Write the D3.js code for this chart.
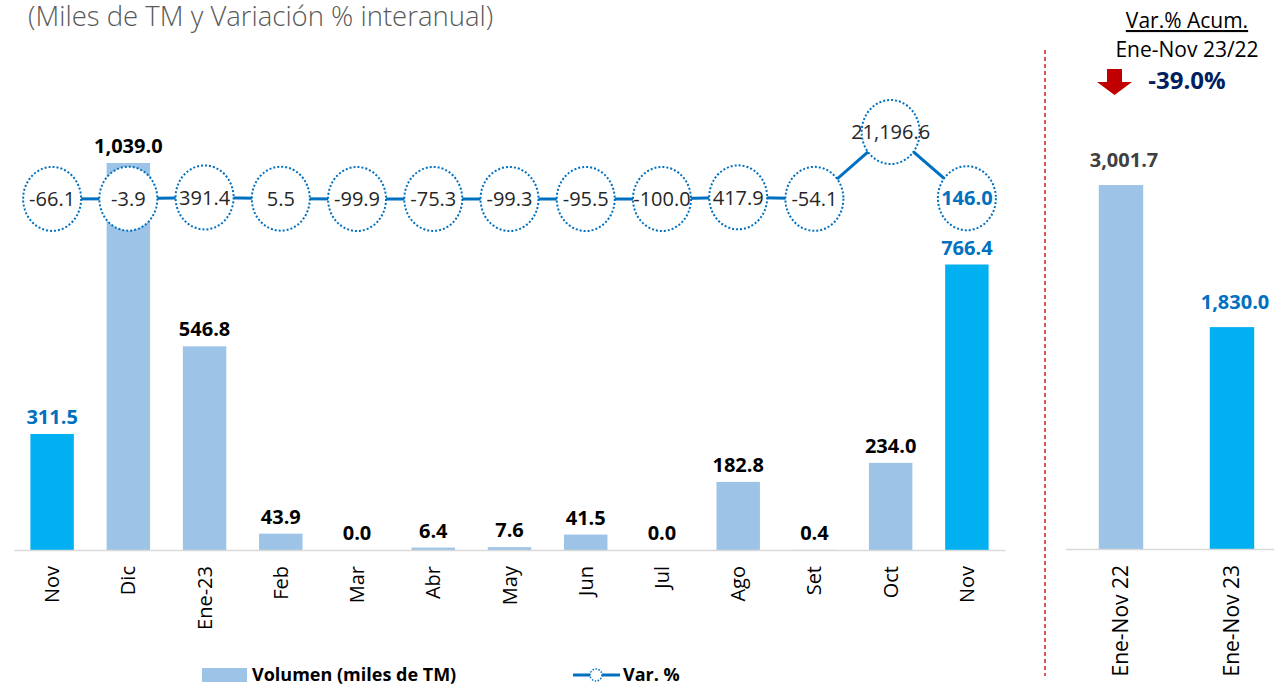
<!DOCTYPE html>
<html>
<head>
<meta charset="utf-8">
<script src="https://cdn.jsdelivr.net/npm/d3@7"></script>
<style>
  body { margin: 0; background: #fff; }
  svg { display: block; font-family: "Open Sans", sans-serif; }
</style>
</head>
<body>
<div id="chart"></div>
<script>
// ----------------------------
// Data
// ----------------------------
var months = ["Nov", "Dic", "Ene-23", "Feb", "Mar", "Abr", "May", "Jun", "Jul", "Ago", "Set", "Oct", "Nov"];
var volumen = [311.5, 1039.0, 546.8, 43.9, 0.0, 6.4, 7.6, 41.5, 0.0, 182.8, 0.4, 234.0, 766.4];
var variacion = [-66.1, -3.9, 391.4, 5.5, -99.9, -75.3, -99.3, -95.5, -100.0, 417.9, -54.1, 21196.6, 146.0];

var acumCats = ["Ene-Nov 22", "Ene-Nov 23"];
var acumVals = [3001.7, 1830.0];
var acumVar = "-39.0%";

// ----------------------------
// Config
// ----------------------------
var Vis = {};
Vis.width = 1274;
Vis.height = 686;
Vis.light = "#9DC3E6";
Vis.bright = "#00B0F0";
Vis.blue = "#0070C0";
// plain hyphen for negatives, like the original
Vis.fmt = d3.formatLocale({decimal: ".", thousands: ",", grouping: [3], currency: ["", ""], minus: "-"}).format(",.1f");

Vis.svg = d3.select("#chart").append("svg")
  .attr("width", Vis.width)
  .attr("height", Vis.height);

// title
Vis.svg.append("text")
  .attr("x", 28).attr("y", 26)
  .attr("font-size", 27.5)
  .attr("font-weight", 300)
  .attr("fill", "#595959")
  .text("(Miles de TM y Variación % interanual)");

// ----------------------------
// Scales - monthly chart
// ----------------------------
Vis.x = d3.scaleBand()
  .domain(d3.range(months.length))
  .range([14, 1005])
  .paddingInner(0.43)
  .paddingOuter(0.215);

Vis.y = d3.scaleLinear().domain([0, 1200]).range([550, 103]);
Vis.y2 = d3.scaleLinear().domain([-100, 21196.6]).range([199, 132]);

// bars
Vis.svg.append("g").selectAll("rect")
  .data(volumen)
  .enter().append("rect")
  .attr("x", (d, i) => Vis.x(i))
  .attr("y", d => Vis.y(d))
  .attr("width", Vis.x.bandwidth())
  .attr("height", d => Vis.y(0) - Vis.y(d))
  .attr("fill", (d, i) => months[i] == "Nov" ? Vis.bright : Vis.light);

// x axis
Vis.xAxis = Vis.svg.append("g")
  .attr("transform", `translate(0,${Vis.y(0)})`)
  .call(d3.axisBottom(Vis.x).tickSize(0).tickFormat(i => months[i]));
Vis.xAxis.select(".domain").attr("stroke", "#D9D9D9").attr("stroke-width", 1.5);
Vis.xAxis.selectAll("text")
  .attr("transform", "rotate(-90)")
  .attr("x", -16).attr("y", 0).attr("dy", "0.35em")
  .attr("text-anchor", "end")
  .attr("font-size", 20)
  .attr("font-family", "Open Sans")
  .attr("fill", "#000");

// bar labels
Vis.svg.append("g").selectAll("text")
  .data(volumen)
  .enter().append("text")
  .attr("x", (d, i) => Vis.x(i) + Vis.x.bandwidth() / 2)
  .attr("y", d => Vis.y(d) - 10)
  .attr("text-anchor", "middle")
  .attr("font-size", 20)
  .attr("font-weight", "bold")
  .attr("fill", (d, i) => months[i] == "Nov" ? Vis.blue : "#000")
  .text(d => Vis.fmt(d));

// variation line
Vis.line = d3.line()
  .x((d, i) => Vis.x(i) + Vis.x.bandwidth() / 2)
  .y(d => Vis.y2(d));

Vis.svg.append("path")
  .datum(variacion)
  .attr("d", Vis.line)
  .attr("fill", "none")
  .attr("stroke", Vis.blue)
  .attr("stroke-width", 3);

Vis.marks = Vis.svg.append("g").selectAll("g")
  .data(variacion)
  .enter().append("g")
  .attr("transform", (d, i) => `translate(${Vis.x(i) + Vis.x.bandwidth() / 2},${Vis.y2(d)})`);

Vis.marks.append("ellipse")
  .attr("rx", 29).attr("ry", 32)
  .attr("fill", "#fff")
  .attr("stroke", Vis.blue)
  .attr("stroke-width", 2)
  .attr("stroke-dasharray", "2,2");

Vis.marks.append("text")
  .attr("text-anchor", "middle")
  .attr("dy", "0.36em")
  .attr("font-size", 20)
  .attr("fill", (d, i) => i == variacion.length - 1 ? Vis.blue : "#262626")
  .attr("font-weight", (d, i) => i == variacion.length - 1 ? "bold" : "normal")
  .text(d => Vis.fmt(d));

// legend
Vis.legend = Vis.svg.append("g");
Vis.legend.append("rect")
  .attr("x", 202).attr("y", 668).attr("width", 45).attr("height", 14)
  .attr("fill", Vis.light);
Vis.legend.append("text")
  .attr("x", 252).attr("y", 681)
  .attr("font-size", 18).attr("font-weight", "bold")
  .text("Volumen (miles de TM)");
Vis.legend.append("line")
  .attr("x1", 573).attr("x2", 620).attr("y1", 675).attr("y2", 675)
  .attr("stroke", Vis.blue).attr("stroke-width", 3);
Vis.legend.append("circle")
  .attr("cx", 596).attr("cy", 675).attr("r", 6)
  .attr("fill", "#fff").attr("stroke", Vis.blue)
  .attr("stroke-width", 1.5).attr("stroke-dasharray", "1.5,1.5");
Vis.legend.append("text")
  .attr("x", 623).attr("y", 681)
  .attr("font-size", 18).attr("font-weight", "bold")
  .text("Var. %");

// ----------------------------
// Separator
// ----------------------------
Vis.svg.append("line")
  .attr("x1", 1045).attr("x2", 1045).attr("y1", 50).attr("y2", 676)
  .attr("stroke", "#C00000").attr("stroke-width", 1.3)
  .attr("stroke-dasharray", "4,3");

// ----------------------------
// Accumulated chart
// ----------------------------
Vis.xa = d3.scaleBand()
  .domain(acumCats)
  .range([1065.5, 1287.5])
  .paddingInner(0.6)
  .paddingOuter(0.3);
Vis.ya = d3.scaleLinear().domain([0, 4000]).range([549, 64]);

Vis.svg.append("g").selectAll("rect")
  .data(acumVals)
  .enter().append("rect")
  .attr("x", (d, i) => Vis.xa(acumCats[i]))
  .attr("y", d => Vis.ya(d))
  .attr("width", Vis.xa.bandwidth())
  .attr("height", d => Vis.ya(0) - Vis.ya(d))
  .attr("fill", (d, i) => i == 0 ? Vis.light : Vis.bright);

Vis.xaAxis = Vis.svg.append("g")
  .attr("transform", `translate(0,${Vis.ya(0)})`)
  .call(d3.axisBottom(Vis.xa).tickSize(0));
Vis.xaAxis.select(".domain").attr("stroke", "#D9D9D9").attr("stroke-width", 1.5);
Vis.xaAxis.selectAll("text")
  .attr("transform", "rotate(-90)")
  .attr("x", -16).attr("y", 0).attr("dy", "0.35em")
  .attr("text-anchor", "end")
  .attr("font-size", 21)
  .attr("font-family", "Open Sans")
  .attr("fill", "#000");

Vis.svg.append("g").selectAll("text")
  .data(acumVals)
  .enter().append("text")
  .attr("x", (d, i) => Vis.xa(acumCats[i]) + Vis.xa.bandwidth() / 2 + 3)
  .attr("y", d => Vis.ya(d) - 18)
  .attr("text-anchor", "middle")
  .attr("font-size", 20)
  .attr("font-weight", "bold")
  .attr("fill", (d, i) => i == 0 ? "#404040" : Vis.blue)
  .text(d => Vis.fmt(d));

// header of the accumulated panel
Vis.head = Vis.svg.append("g").attr("text-anchor", "middle");
Vis.head.append("text")
  .attr("x", 1187).attr("y", 28)
  .attr("font-size", 21)
  .attr("fill", "#000")
  .attr("text-decoration", "underline")
  .text("Var.% Acum.");
Vis.head.append("text")
  .attr("x", 1187).attr("y", 57)
  .attr("font-size", 21)
  .attr("fill", "#000")
  .text("Ene-Nov 23/22");
Vis.head.append("text")
  .attr("x", 1187).attr("y", 89)
  .attr("font-size", 24)
  .attr("font-weight", "bold")
  .attr("fill", "#002060")
  .text(acumVar);

// red arrow
Vis.svg.append("path")
  .attr("d", "M1107,69 L1122,69 L1122,82 L1132,82 L1114.5,95 L1097,82 L1107,82 Z")
  .attr("fill", "#C00000");
</script>
</body>
</html>
